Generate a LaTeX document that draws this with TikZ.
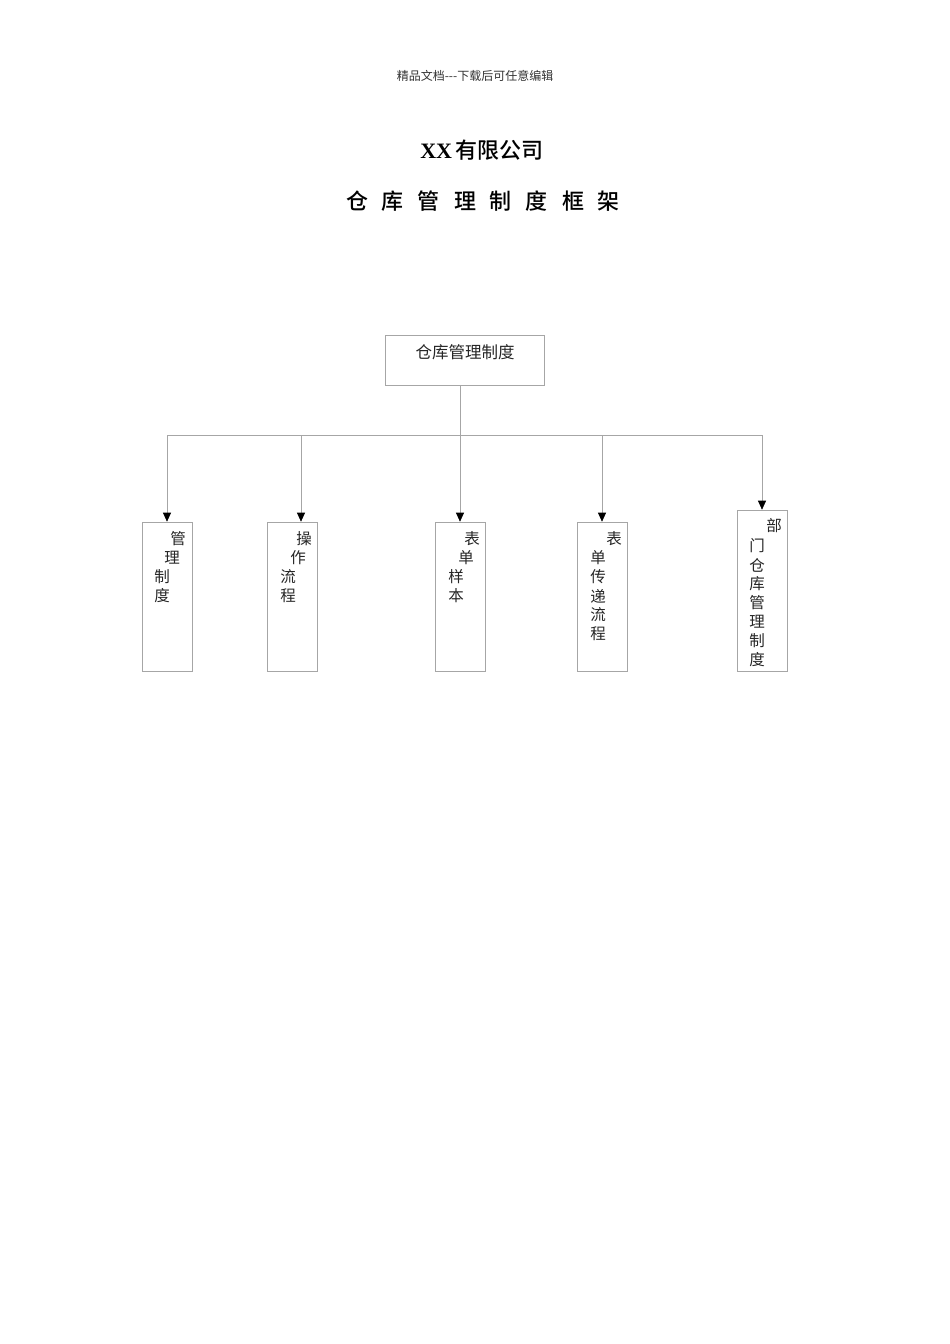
\documentclass[tikz,border=0pt]{standalone}
\usepackage{fontspec}
\setmainfont{Liberation Serif}
\newfontfamily\cjk{Noto Sans CJK SC}
\newfontfamily\cjkmed{Noto Sans CJK SC Medium}
\usetikzlibrary{arrows.meta}
\tikzset{
  framebox/.style={draw=black!35, line width=0.6pt, fill=none},
  link/.style={draw=black!35, line width=0.6pt},
  arr/.style={link, -{Triangle[width=8pt,length=9pt,fill=black,color=black]}},
  ch/.style={inner sep=0pt, font=\cjk\fontsize{15.5}{16}\selectfont, text=black!85},
}
\begin{document}
\begin{tikzpicture}[x=1pt,y=-1pt]
\useasboundingbox (0,0) rectangle (950,1344);
\fill[white] (0,0) rectangle (950,1344);
% header & titles
\node[inner sep=0pt, font=\cjk\fontsize{12}{13}\selectfont, text=black!80] (hdr) at (475,76) {精品文档---下载后可任意编辑};
\node[inner sep=0pt, font=\fontsize{22}{24}\selectfont] (t1) at (482,150) {\textbf{XX}\,{\cjkmed 有限公司}};
\node[inner sep=0pt, font=\cjkmed\fontsize{22}{24}\selectfont] (t2) at (483,201) {仓\hspace{14pt}库\hspace{14pt}管\hspace{14pt}理\hspace{14pt}制\hspace{14pt}度\hspace{14pt}框\hspace{14pt}架};
% top box
\node[framebox, minimum width=159pt, minimum height=50pt, inner sep=0pt] (top) at (464.5,360) {};
\node[ch, font=\cjk\fontsize{16.5}{17}\selectfont] (toptxt) at (465,352) {仓库管理制度};
% child boxes
\node[framebox, minimum width=50pt, minimum height=149pt, inner sep=0pt] (b1) at (167,596.5) {};
\node[framebox, minimum width=50pt, minimum height=149pt, inner sep=0pt] (b2) at (292,596.5) {};
\node[framebox, minimum width=50pt, minimum height=149pt, inner sep=0pt] (b3) at (460,596.5) {};
\node[framebox, minimum width=50pt, minimum height=149pt, inner sep=0pt] (b4) at (602,596.5) {};
\node[framebox, minimum width=50pt, minimum height=161pt, inner sep=0pt] (b5) at (762,590.5) {};
% connectors
\coordinate (hub) at (460,435);
\coordinate (hl) at (167,435);
\coordinate (h2) at (301,435);
\coordinate (h4) at (602,435);
\coordinate (hr) at (762,435);
\draw[link] (top.south -| hub) -- (hub);
\draw[link] (hl) -- (hr);
\draw[arr] (hl) -- (b1.north);
\draw[arr] (h2) -- (h2 |- b2.north);
\draw[arr] (hub) -- (b3.north);
\draw[arr] (h4) -- (b4.north);
\draw[arr] (hr) -- (b5.north);
% box texts
\node[ch] (a1) at (178,539) {管};
\node[ch] (a2) at (172,558) {理};
\node[ch] (a3) at (162,577) {制};
\node[ch] (a4) at (162,596) {度};
\node[ch] (c1) at (304,539) {操};
\node[ch] (c2) at (298,558) {作};
\node[ch] (c3) at (288,577) {流};
\node[ch] (c4) at (288,596) {程};
\node[ch] (d1) at (472,539) {表};
\node[ch] (d2) at (466,558) {单};
\node[ch] (d3) at (456,577) {样};
\node[ch] (d4) at (456,596) {本};
\node[ch] (e1) at (614,539) {表};
\node[ch] (e2) at (598,558) {单};
\node[ch] (e3) at (598,577) {传};
\node[ch] (e4) at (598,596) {递};
\node[ch] (e5) at (598,615) {流};
\node[ch] (e6) at (598,634) {程};
\node[ch] (f1) at (774,526) {部};
\node[ch] (f2) at (757,546) {门};
\node[ch] (f3) at (757,565) {仓};
\node[ch] (f4) at (757,584) {库};
\node[ch] (f5) at (757,603) {管};
\node[ch] (f6) at (757,622) {理};
\node[ch] (f7) at (757,641) {制};
\node[ch] (f8) at (757,660) {度};
\end{tikzpicture}
\end{document}
